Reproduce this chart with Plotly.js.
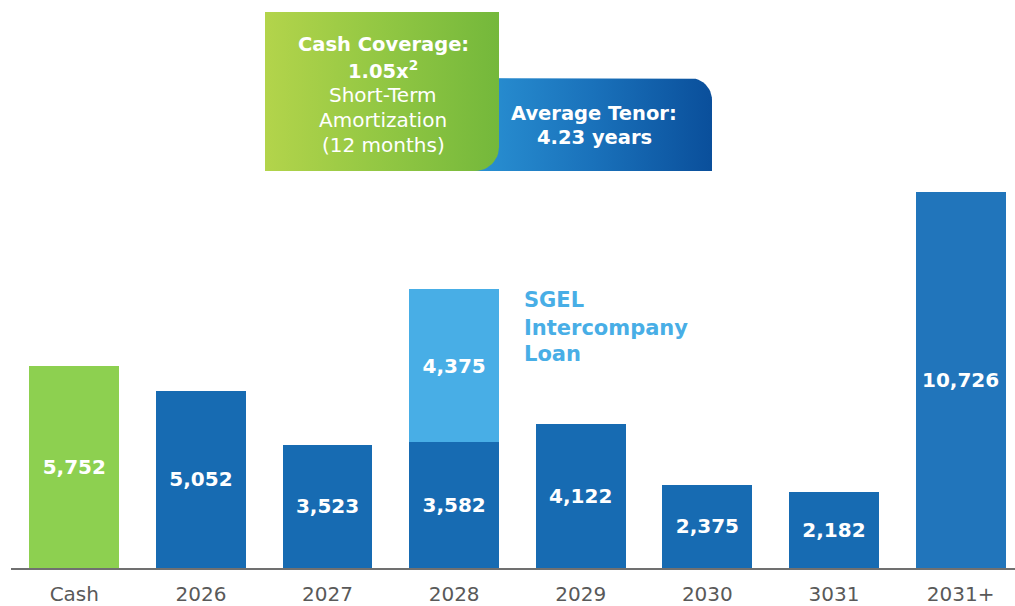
<!DOCTYPE html>
<html><head><meta charset="utf-8">
<script src="https://cdn.plot.ly/plotly-3.0.1.min.js"></script>
<style>html,body{margin:0;padding:0;background:#fff}#chart{width:1015px;height:606px}</style>
</head><body><div id="chart"></div>
<script>
const categories = ['Cash','2026','2027','2028','2029','2030','3031','2031+'];
const maturities = [5752, 5052, 3523, 3582, 4122, 2375, 2182, 10726];
const sgelLoan = [null, null, null, 4375, null, null, null, null];
const barColors = ['#8dd050','#176bb2','#176bb2','#176bb2','#176bb2','#176bb2','#176bb2','#2175bb'];
const sgelColor = '#48aee6';
const fmt = v => v == null ? '' : v.toLocaleString('en-US');

// SGEL bars only where a value exists
const sgelX = categories.filter((c, i) => sgelLoan[i] != null);
const sgelY = sgelLoan.filter(v => v != null);

// decorative rounded box outline in pixel space (y grows downward)
function roundedBox(x0, y0, x1, y1, r) {
  const xs = [], ys = [];
  const arc = (cx, cy, rad, a0, a1) => {
    for (let i = 0; i <= 12; i++) {
      const a = a0 + (a1 - a0) * i / 12;
      xs.push(cx + rad * Math.cos(a)); ys.push(cy + rad * Math.sin(a));
    }
  };
  arc(x0 + r.tl, y0 + r.tl, r.tl, Math.PI, 1.5 * Math.PI);
  arc(x1 - r.tr, y0 + r.tr, r.tr, 1.5 * Math.PI, 2 * Math.PI);
  arc(x1 - r.br, y1 - r.br, r.br, 0, 0.5 * Math.PI);
  arc(x0 + r.bl, y1 - r.bl, r.bl, 0.5 * Math.PI, Math.PI);
  xs.push(xs[0]); ys.push(ys[0]);
  return {x: xs, y: ys};
}

const blueBox = roundedBox(470, 78, 712, 171, {tl: 0, tr: 22, br: 0, bl: 0});
const greenBox = roundedBox(265, 12, 499, 171, {tl: 0, tr: 0, br: 24, bl: 0});

const valueFont = {family: 'DejaVu Sans', size: 20, color: '#ffffff', weight: 'bold'};

const traces = [
  {
    type: 'bar', x: categories, y: maturities,
    marker: {color: barColors},
    text: maturities.map(fmt), textposition: 'inside', insidetextanchor: 'middle',
    textfont: valueFont, hoverinfo: 'skip'
  },
  {
    type: 'bar', x: sgelX, y: sgelY,
    marker: {color: sgelColor},
    text: sgelY.map(fmt), textposition: 'inside', insidetextanchor: 'middle',
    textfont: valueFont, hoverinfo: 'skip'
  },
  {
    type: 'scatter', mode: 'lines', x: blueBox.x, y: blueBox.y, xaxis: 'x2', yaxis: 'y2',
    fill: 'toself', line: {width: 0, color: 'rgba(0,0,0,0)'},
    fillgradient: {type: 'horizontal', colorscale: [[0, '#2a92d4'], [0.5, '#1a72bb'], [1, '#0a4f9b']]},
    hoverinfo: 'skip'
  },
  {
    type: 'scatter', mode: 'lines', x: greenBox.x, y: greenBox.y, xaxis: 'x2', yaxis: 'y2',
    fill: 'toself', line: {width: 0, color: 'rgba(0,0,0,0)'},
    fillgradient: {type: 'horizontal', colorscale: [[0, '#b3d44b'], [0.5, '#92c743'], [1, '#74b83b']]},
    hoverinfo: 'skip'
  }
];

const ann = (x, y, text, size, color, xanchor) => ({
  xref: 'x2', yref: 'y2', x: x, y: y, text: text, showarrow: false,
  xanchor: xanchor || 'center', yanchor: 'middle',
  font: {family: 'DejaVu Sans', size: size, color: color}
});

const layout = {
  width: 1015, height: 606,
  margin: {l: 11, r: 0, t: 10, b: 38},
  paper_bgcolor: '#ffffff', plot_bgcolor: 'rgba(0,0,0,0)',
  barmode: 'stack', bargap: 0.29, showlegend: false,
  font: {family: 'DejaVu Sans'},
  xaxis: {
    type: 'category', range: [-0.5, 7.43], showline: true, linecolor: '#707070', linewidth: 2,
    showgrid: false, zeroline: false, ticks: '', ticklabelstandoff: 7,
    tickfont: {family: 'DejaVu Sans', size: 20, color: '#595959'}, fixedrange: true
  },
  yaxis: {range: [0, 15918], visible: false, showgrid: false, zeroline: false, fixedrange: true},
  xaxis2: {overlaying: 'x', anchor: 'y2', range: [11, 1015], visible: false, fixedrange: true},
  yaxis2: {overlaying: 'y', anchor: 'x2', range: [568, 10], visible: false, fixedrange: true},
  annotations: [
    ann(383, 44, '<b>Cash Coverage:</b>', 19.5, '#ffffff'),
    ann(383, 70, '<b>1.05x<sup>2</sup></b>', 19.5, '#ffffff'),
    ann(383, 95, 'Short-Term', 20, '#ffffff'),
    ann(383, 120, 'Amortization', 20, '#ffffff'),
    ann(383, 145, '(12 months)', 20, '#ffffff'),
    ann(594, 113, '<b>Average Tenor:</b>', 19.5, '#ffffff'),
    ann(594, 137, '<b>4.23 years</b>', 19.5, '#ffffff'),
    ann(522, 300, '<b>SGEL</b>', 21, sgelColor, 'left'),
    ann(522, 328, '<b>Intercompany</b>', 21, sgelColor, 'left'),
    ann(522, 354, '<b>Loan</b>', 21, sgelColor, 'left')
  ]
};

Plotly.newPlot('chart', traces, layout, {displayModeBar: false, staticPlot: true});
</script>
</body></html>
